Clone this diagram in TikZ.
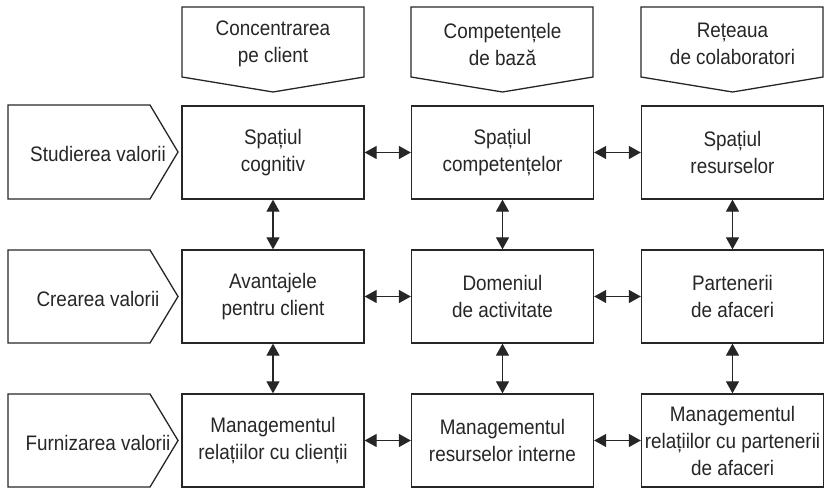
\documentclass[tikz,border=0pt]{standalone}
\usepackage{fontspec}
\setmainfont[FakeStretch=0.9]{Liberation Sans}
\usetikzlibrary{arrows.meta}
\definecolor{ink}{HTML}{262626}
\begin{document}
\begin{tikzpicture}[x=1pt,y=-1pt,
  txt/.style={font=\fontsize{21}{27}\selectfont, text=ink, align=center, inner sep=0pt},
  box/.style={txt, draw=ink, line width=1.3pt, minimum width=182pt, minimum height=93pt},
  pent/.style={draw=ink, line width=1.3pt},
  tip/.style={Triangle[length=12pt,width=13pt]},
  link/.style={draw=ink, line width=1.2pt, {Triangle[length=12pt,width=13pt]}-{Triangle[length=12pt,width=13pt]}}]
\useasboundingbox (0,0) rectangle (827,489);

% column headers (downward pentagons)
\foreach \l/\c in {182/273, 411/502.5, 641/732.5}{
  \draw[pent] (\l,7) -- (\l+182,7) -- (\l+182,77) -- (\c,92) -- (\l,77) -- cycle;
}
\node[txt] (h1) at (273,44) {Concentrarea\\pe client};
\node[txt] (h2) at (502.5,44) {Competențele\\de bază};
\node[txt] (h3) at (732.5,44) {Rețeaua\\de colaboratori};

% row headers (rightward pentagons)
\foreach \t/\m in {105/152, 250/296.5, 394/440.5}{
  \draw[pent] (8,\t) -- (150,\t) -- (178,\m) -- (150,2*\m-\t) -- (8,2*\m-\t) -- cycle;
}
\node[txt] (r1) at (98,154) {Studierea valorii};
\node[txt] (r2) at (98,298.5) {Crearea valorii};
\node[txt] (r3) at (98,442.5) {Furnizarea valorii};

% main grid
\node[box] (b11) at (273,152.5) {Spațiul\\cognitiv};
\node[box] (b12) at (502.5,152.5) {Spațiul\\competențelor};
\node[box] (b13) at (732.5,152.5) {Spațiul\\resurselor};
\node[box] (b21) at (273,296.5) {Avantajele\\pentru client};
\node[box] (b22) at (502.5,296.5) {Domeniul\\de activitate};
\node[box] (b23) at (732.5,296.5) {Partenerii\\de afaceri};
\node[box] (b31) at (273,440.5) {Managementul\\relațiilor cu clienții};
\node[box] (b32) at (502.5,440.5) {Managementul\\resurselor interne};
\node[box] (b33) at (732.5,440.5) {Managementul\\relațiilor cu partenerii\\de afaceri};

% connectors
\foreach \r in {1,2,3}{
  \draw[link] (b\r1.east) -- (b\r2.west);
  \draw[link] (b\r2.east) -- (b\r3.west);
}
\foreach \c in {1,2,3}{
  \draw[link] (b1\c.south) -- (b2\c.north);
  \draw[link] (b2\c.south) -- (b3\c.north);
}
\end{tikzpicture}
\end{document}
